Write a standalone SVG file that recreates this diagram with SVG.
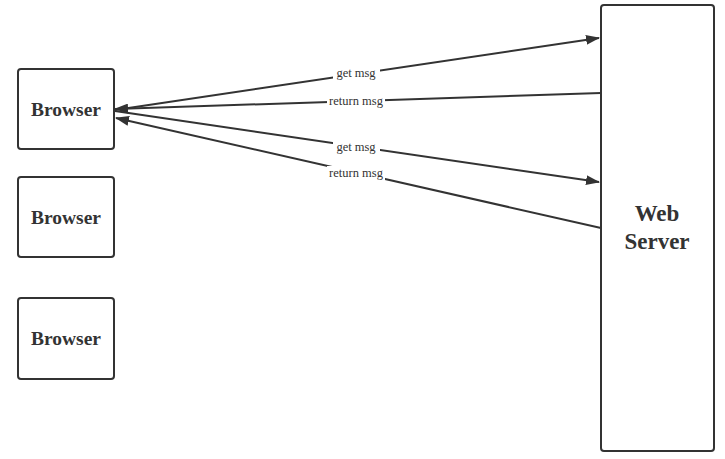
<svg xmlns="http://www.w3.org/2000/svg" width="725" height="459" viewBox="0 0 725 459">
<style>
.box{fill:#fff;stroke:#333;stroke-width:2}
.nt{font-family:"Liberation Serif",serif;font-weight:bold;font-size:19.5px;fill:#333;text-anchor:middle}
.st{font-family:"Liberation Serif",serif;font-weight:bold;font-size:23px;fill:#333;text-anchor:middle}
.ln{stroke:#333;stroke-width:2;fill:none}
.lb{font-family:"Liberation Serif",serif;font-size:12.5px;fill:#333;text-anchor:middle}
.lbg{fill:#fff}
</style>
<defs>
<marker id="ah" viewBox="0 0 14 10" refX="13" refY="5" markerWidth="14" markerHeight="10" markerUnits="userSpaceOnUse" orient="auto">
<path d="M0,0 L14,5 L0,10 z" fill="#333"/>
</marker>
</defs>
<g id="connectors">
<line class="ln" x1="115" y1="110" x2="599" y2="38" marker-end="url(#ah)"/>
<line class="ln" x1="601" y1="93" x2="115" y2="109" marker-end="url(#ah)"/>
<line class="ln" x1="115" y1="111" x2="599" y2="182" marker-end="url(#ah)"/>
<line class="ln" x1="601" y1="228" x2="116" y2="118" marker-end="url(#ah)"/>
<rect class="lbg" x="333" y="66" width="47" height="14"/>
<text class="lb" x="356" y="77">get msg</text>
<rect class="lbg" x="327" y="94" width="58" height="14"/>
<text class="lb" x="356" y="105">return msg</text>
<rect class="lbg" x="333" y="140" width="47" height="14"/>
<text class="lb" x="356" y="151">get msg</text>
<rect class="lbg" x="327" y="166" width="58" height="14"/>
<text class="lb" x="356" y="177">return msg</text>
</g>
<g id="browser1">
<rect class="box" x="18" y="69" width="96" height="80" rx="3"/>
<text class="nt" x="66" y="116">Browser</text>
</g>
<g id="browser2">
<rect class="box" x="18" y="177" width="96" height="80" rx="3"/>
<text class="nt" x="66" y="224">Browser</text>
</g>
<g id="browser3">
<rect class="box" x="18" y="298" width="96" height="81" rx="3"/>
<text class="nt" x="66" y="345">Browser</text>
</g>
<g id="webserver">
<rect class="box" x="601" y="5" width="113" height="446" rx="3"/>
<text class="st" x="657" y="221">Web</text>
<text class="st" x="657" y="249">Server</text>
</g>
</svg>
